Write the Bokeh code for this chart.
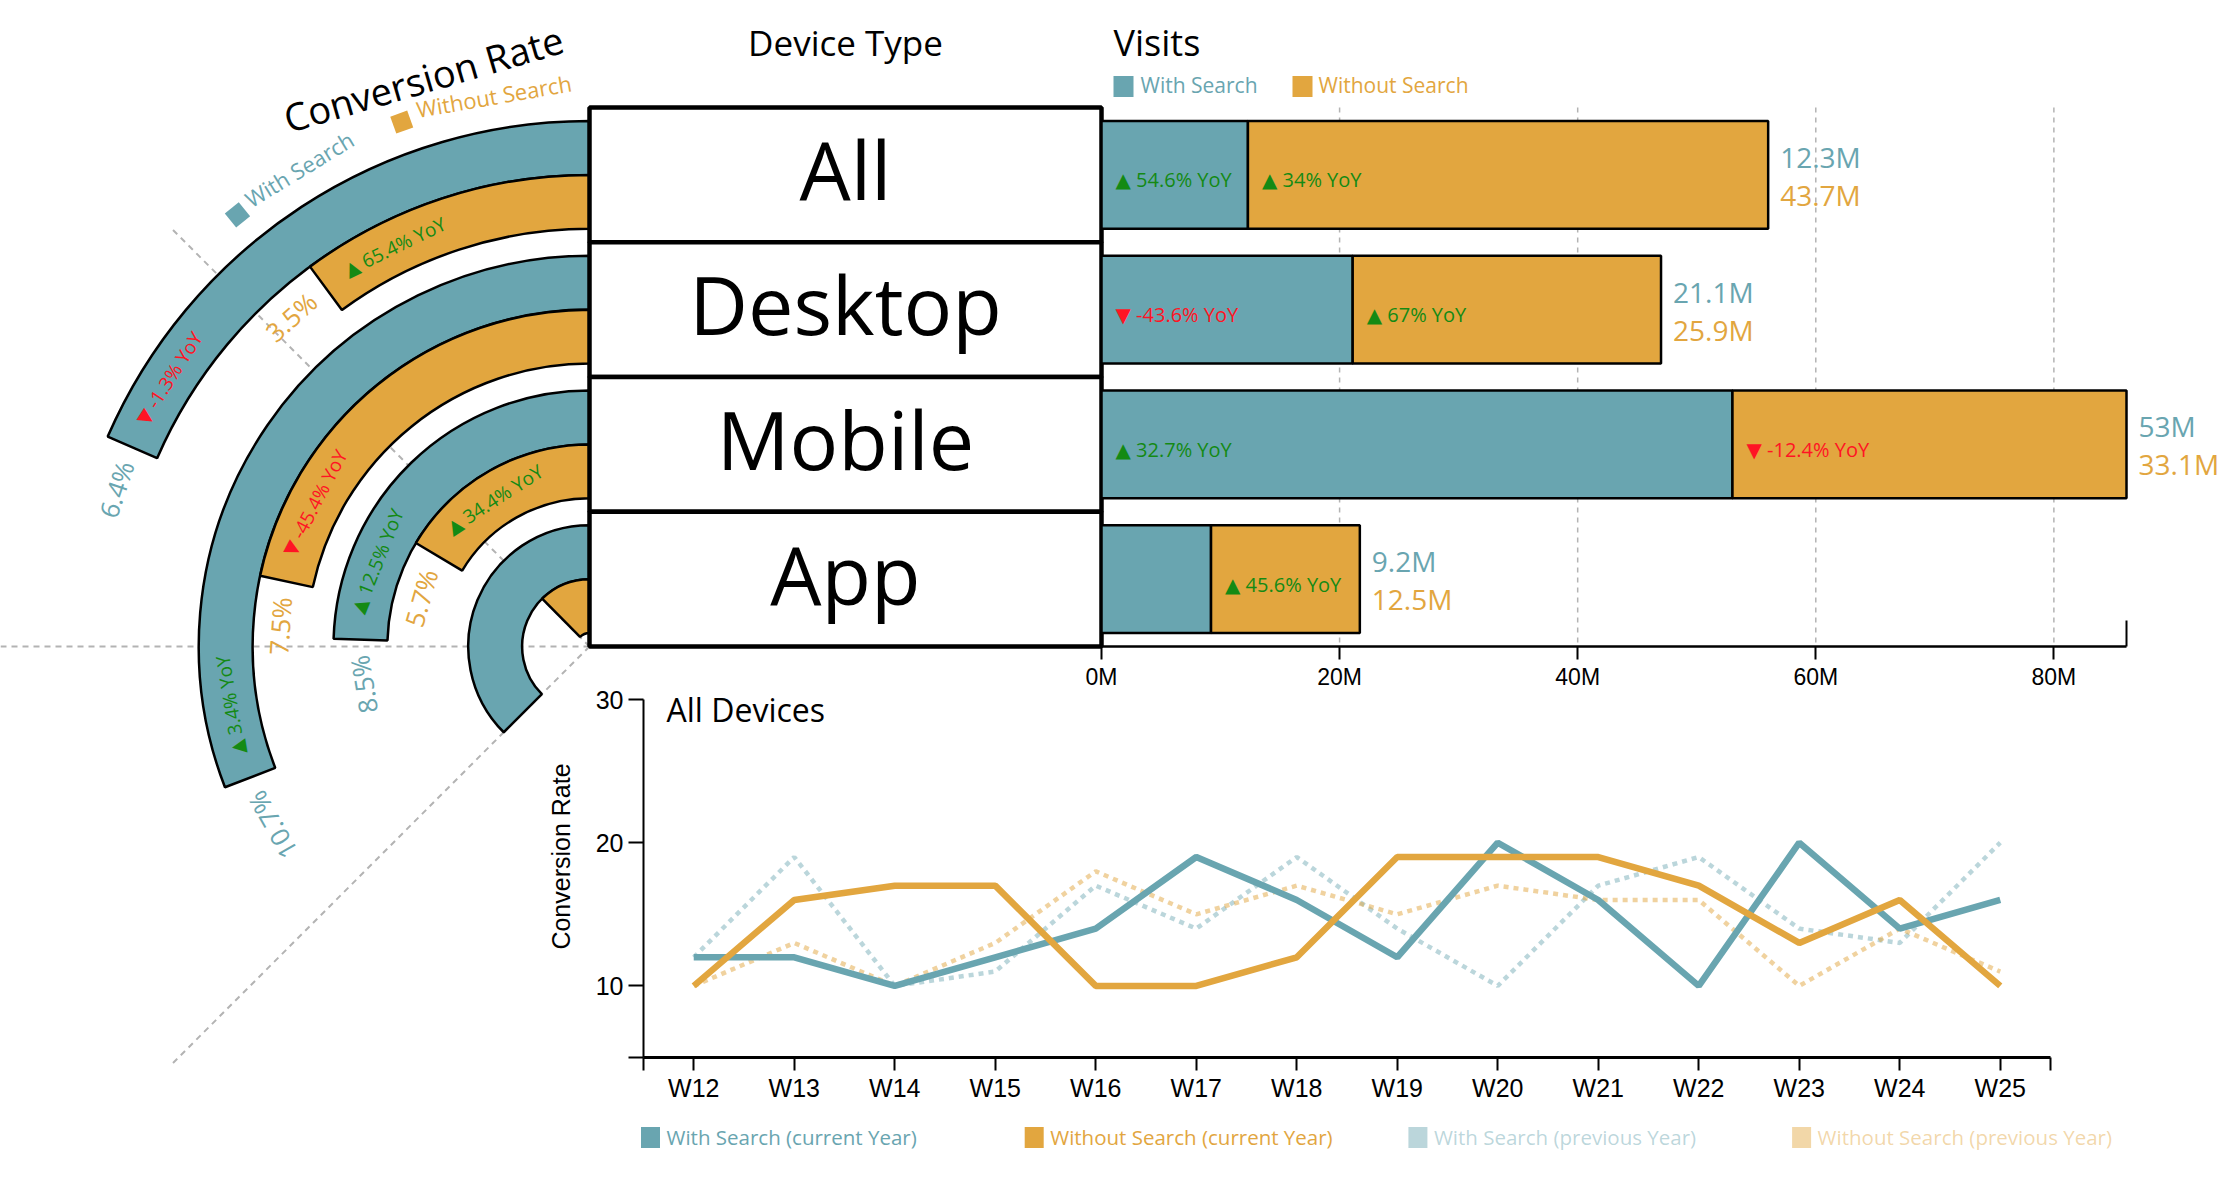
import math
from bokeh.plotting import figure
from bokeh.models import Range1d, FixedTicker, LinearAxis
from bokeh.core.properties import value
from bokeh.embed import file_html
from bokeh.resources import INLINE

# ---------------- data ----------------
devices = ["All", "Desktop", "Mobile", "App"]
conv_with = [6.4, 10.7, 8.5, 13.0]
conv_without = [3.5, 7.5, 5.7, 4.3]
conv_with_yoy = [-1.3, 3.4, 12.5, None]
conv_without_yoy = [65.4, -45.4, 34.4, None]
conv_labelled = [True, True, True, False]

visits_with = [12.3, 21.1, 53.0, 9.2]
visits_without = [43.7, 25.9, 33.1, 12.5]
visits_with_yoy = [54.6, -43.6, 32.7, None]
visits_without_yoy = [34.0, 67.0, -12.4, 45.6]
visit_ticks = [0, 20, 40, 60, 80]

weeks = ["W12", "W13", "W14", "W15", "W16", "W17", "W18", "W19", "W20", "W21", "W22", "W23", "W24", "W25"]
cr_with_cur = [12, 12, 10, 12, 14, 19, 16, 12, 20, 16, 10, 20, 14, 16]
cr_without_cur = [10, 16, 17, 17, 10, 10, 12, 19, 19, 19, 17, 13, 16, 10]
cr_with_prev = [12, 19, 10, 11, 17, 14, 19, 14, 10, 17, 19, 14, 13, 20]
cr_without_prev = [10, 13, 10, 13, 18, 15, 17, 15, 17, 16, 16, 10, 14, 11]
cr_ticks = [10, 20, 30]
cr_floor = 5

legend_line = ["With Search (current Year)", "Without Search (current Year)",
               "With Search (previous Year)", "Without Search (previous Year)"]

# ---------------- styling / layout ----------------
TEAL = "#69a5b0"
ORANGE = "#e2a63f"
UP = "#148a14"
DOWN = "#ff1424"
GRID = "#b3b3b3"
FONT = value("Open Sans, DejaVu Sans")
AXFONT = "Liberation Sans"

W, H = 2240, 1196
BOX_L, BOX_R = 589, 1101
BAND_TOP, BAND_BOT = 107, 646
AXIS_END = 2126
LINE_L, LINE_R, LINE_T, LINE_B = 643, 2050, 699, 1057

ADV = {'.': .266, '%': .823, '-': .322, ' ': .26, 'Y': .532, 'o': .602, 'M': .907,
       '\u25b2': .77, '\u25bc': .77}


def tw(s, size):
    return sum(ADV.get(c, .572 if c.isdigit() else .55) for c in s) * size


def P(px, py):
    return px - BOX_L, BAND_BOT - py


def polar(r, th):
    return r * math.cos(th), r * math.sin(th)


def yoy_text(v):
    return ("\u25b2 " if v >= 0 else "\u25bc ") + f"{v:g}% YoY"


# one canvas; default ranges are pixel units with origin at the radial centre (y up)
p = figure(width=W, height=H, x_range=Range1d(-BOX_L, W - BOX_L), y_range=Range1d(-(H - BAND_BOT), BAND_BOT),
           x_axis_type=None, y_axis_type=None, min_border=0, toolbar_location=None,
           output_backend="svg", title=None)
p.outline_line_color = None
p.background_fill_color = "white"
p.border_fill_color = "white"

n = len(devices)
span = BAND_BOT - BAND_TOP
step = span / n
PAD = 0.1

# extra scales for the visits bars and the weekly line chart
totals = [a + b for a, b in zip(visits_with, visits_without)]
vmax = max(totals)
vk = (AXIS_END - BOX_R) / vmax
p.extra_x_ranges["visits"] = Range1d(-BOX_R / vk, (W - BOX_R) / vk)
p.extra_y_ranges["rows"] = Range1d((H - BAND_TOP) / step, -BAND_TOP / step)
wk = (LINE_R - LINE_L) / len(weeks)
p.extra_x_ranges["weeks"] = Range1d(-0.5 - LINE_L / wk, -0.5 + (W - LINE_L) / wk)
ck = (LINE_B - LINE_T) / (max(cr_ticks) - cr_floor)
p.extra_y_ranges["cr"] = Range1d(cr_floor - (H - LINE_B) / ck, max(cr_ticks) + LINE_T / ck)

# ================= radial conversion-rate chart =================
r_out = [span - (i + PAD) * step for i in range(n)]
r_mid = [span - (i + 0.5) * step for i in range(n)]
r_in = [span - (i + 1 - PAD) * step for i in range(n)]

ANG0 = math.pi / 2
ASPAN = 3 * math.pi / 4
RMAX = max(conv_with + conv_without)


def ang(rate):
    return ANG0 + rate / RMAX * ASPAN


p.ray(x=0, y=0, length=590, angle=[ANG0 + k * ASPAN / 3 for k in (1, 2, 3)],
      line_color=GRID, line_width=2, line_dash="6 5")

p.annular_wedge(x=0, y=0, inner_radius=r_mid, outer_radius=r_out, start_angle=ANG0,
                end_angle=[ang(v) for v in conv_with], direction="anticlock",
                fill_color=TEAL, line_color="black", line_width=2.5)
p.annular_wedge(x=0, y=0, inner_radius=r_in, outer_radius=r_mid, start_angle=ANG0,
                end_angle=[ang(v) for v in conv_without], direction="anticlock",
                fill_color=ORANGE, line_color="black", line_width=2.5)

yx, yy, yt, ya, yc = [], [], [], [], []
rx, ry, rt, ra, rc = [], [], [], [], []
for i in range(n):
    for rate, yoy, r, col in ((conv_with[i], conv_with_yoy[i], (r_out[i] + r_mid[i]) / 2, TEAL),
                              (conv_without[i], conv_without_yoy[i], (r_mid[i] + r_in[i]) / 2, ORANGE)):
        te = ang(rate)
        if yoy is not None:
            s = yoy_text(yoy)
            th = te - (26 + tw(s, 19) / 2) / r
            x, y = polar(r, th)
            yx.append(x); yy.append(y); yt.append(s); ya.append(th - math.pi / 2)
            yc.append(UP if yoy >= 0 else DOWN)
        if conv_labelled[i]:
            s = f"{rate:g}%"
            th = te + (16 + tw(s, 26) / 2) / r
            x, y = polar(r, th)
            rx.append(x); ry.append(y); rt.append(s); ra.append(th - math.pi / 2); rc.append(col)

p.text(x=yx, y=yy, text=yt, angle=ya, text_color=yc, text_font=FONT, text_font_size="19px",
       text_align="center", text_baseline="middle")
p.text(x=rx, y=ry, text=rt, angle=ra, text_color=rc, text_font=FONT, text_font_size="26px",
       text_align="center", text_baseline="middle")

t_th = math.radians(106.3)
tx, ty = polar(592, t_th)
p.text(x=[tx], y=[ty], text=["Conversion Rate"], angle=t_th - math.pi / 2, text_color="black",
       text_font=FONT, text_font_size="38px", text_align="center", text_baseline="middle")
for sq_deg, txt_deg, label, col in ((129.2, 121.3, "With Search", TEAL), (109.7, 99.85, "Without Search", ORANGE)):
    sth = math.radians(sq_deg)
    sx, sy = polar(557, sth)
    p.rect(x=[sx], y=[sy], width=18, height=18, angle=sth - math.pi / 2, fill_color=col, line_color=None)
    lth = math.radians(txt_deg)
    lx, ly = polar(559, lth)
    p.text(x=[lx], y=[ly], text=[label], angle=lth - math.pi / 2, text_color=col, text_font=FONT,
           text_font_size="22px", text_align="center", text_baseline="middle")

# device box
box_w = BOX_R - BOX_L
p.rect(x=box_w / 2, y=r_mid, width=box_w, height=step, fill_color="white", line_color="black", line_width=4.5)
p.text(x=[box_w / 2] * n, y=[r + 6 for r in r_mid], text=devices, text_color="black", text_font=FONT,
       text_font_size="81px", text_align="center", text_baseline="middle")


def put_text(px, py, s, size, color="black", align="left", font=FONT, angle=0.0, alpha=1.0):
    x, y = P(px, py)
    p.text(x=[x], y=[y], text=[s], text_color=color, text_alpha=alpha, text_font=font, text_font_size=size,
           text_align=align, text_baseline="middle", angle=angle)


put_text(845, 42, "Device Type", "35px", align="center")
put_text(1113, 42, "Visits", "36px")
for sqx, tx_, label, col in ((1123, 1140, "With Search", TEAL), (1302, 1318, "Without Search", ORANGE)):
    x, y = P(sqx, 86)
    p.rect(x=[x], y=[y], width=20, height=21, fill_color=col, line_color=None)
    put_text(tx_, 84, label, "21px", color=col)

# ================= visits bar chart =================
VIS = dict(x_range_name="visits", y_range_name="rows")
row_c = [i + 0.5 for i in range(n)]
p.segment(x0=visit_ticks[1:], y0=0, x1=visit_ticks[1:], y1=n, line_color=GRID, line_width=1.5,
          line_dash="5 5", **VIS)
p.hbar(y=row_c, left=0, right=visits_with, height=1 - 2 * PAD, fill_color=TEAL,
       line_color="black", line_width=2.5, **VIS)
p.hbar(y=row_c, left=visits_with, right=totals, height=1 - 2 * PAD, fill_color=ORANGE,
       line_color="black", line_width=2.5, **VIS)
p.segment(x0=[vmax], y0=[n - 26 / step], x1=[vmax], y1=[n], line_color="black", line_width=2, **VIS)

sx_, sy_, st_, sc_ = [], [], [], []
for i in range(n):
    for left, yoy in ((0, visits_with_yoy[i]), (visits_with[i], visits_without_yoy[i])):
        if yoy is None:
            continue
        sx_.append(left); sy_.append(row_c[i] + 5 / step); st_.append(yoy_text(yoy))
        sc_.append(UP if yoy >= 0 else DOWN)
p.text(x=sx_, y=sy_, text=st_, text_color=sc_, x_offset=14, text_font=FONT, text_font_size="20px",
       text_baseline="middle", text_align="left", **VIS)
for vals, dy, col in ((visits_with, -18, TEAL), (visits_without, 20, ORANGE)):
    p.text(x=totals, y=[c + dy / step for c in row_c], text=[f"{v:g}M" for v in vals], x_offset=12,
           text_color=col, text_font=FONT, text_font_size="28px", text_baseline="middle",
           text_align="left", **VIS)

vax = LinearAxis(fixed_location=n, bounds=(0, vmax), ticker=FixedTicker(ticks=visit_ticks), **VIS)
vax.major_label_overrides = {t: f"{t}M" for t in visit_ticks}
vax.axis_line_width = 2.5
vax.major_tick_out = 13
vax.major_label_standoff = 4
vax.major_label_text_font_size = "23px"
p.add_layout(vax, "below")

# ================= weekly conversion-rate line chart =================
LN = dict(x_range_name="weeks", y_range_name="cr")
idx = list(range(len(weeks)))
p.line(idx, cr_with_prev, line_color=TEAL, line_alpha=0.45, line_width=4.5, line_dash="5 5", **LN)
p.line(idx, cr_without_prev, line_color=ORANGE, line_alpha=0.5, line_width=4.5, line_dash="5 5", **LN)
p.line(idx, cr_with_cur, line_color=TEAL, line_width=6.5, **LN)
p.line(idx, cr_without_cur, line_color=ORANGE, line_width=6.5, **LN)

ov = {i: w for i, w in zip(idx, weeks)}
ov[-0.5] = ""
ov[len(weeks) - 0.5] = ""
lxa = LinearAxis(fixed_location=cr_floor, bounds=(-0.5, len(weeks) - 0.5),
                 ticker=FixedTicker(ticks=[-0.5] + idx + [len(weeks) - 0.5]), **LN)
lxa.major_label_overrides = ov
lxa.axis_line_width = 3
lxa.major_tick_out = 13
lxa.major_label_standoff = 3
lxa.major_label_text_font_size = "25px"
p.add_layout(lxa, "below")

lya = LinearAxis(fixed_location=-0.5, bounds=(cr_floor, max(cr_ticks)),
                 ticker=FixedTicker(ticks=[cr_floor] + cr_ticks), **LN)
lya.major_label_overrides = {cr_floor: ""}
lya.axis_line_width = 2
lya.major_tick_out = 15
lya.major_label_standoff = 5
lya.major_label_text_font_size = "25px"
p.add_layout(lya, "left")

for ax in (vax, lxa, lya):
    ax.axis_line_color = "black"
    ax.major_tick_line_width = 2
    ax.major_tick_line_color = "black"
    ax.major_tick_in = 0
    ax.minor_tick_line_color = None
    ax.major_label_text_font = AXFONT
    ax.major_label_text_color = "black"

put_text(666, 709, "All Devices", "32px")
put_text(560, 856, "Conversion Rate", "25px", align="center", font=value(AXFONT), angle=math.pi / 2)
leg_cols = [TEAL, ORANGE, TEAL, ORANGE]
leg_alpha = [1, 1, 0.45, 0.45]
for k, (label, col, al) in enumerate(zip(legend_line, leg_cols, leg_alpha)):
    sq_x = 650 + k * 383.7
    x, y = P(sq_x, 1137)
    p.rect(x=[x], y=[y], width=19, height=21, fill_color=col, fill_alpha=al, line_color=None)
    put_text(sq_x + 16, 1136, label, "20.5px", color=col, alpha=al)

open("out.html", "w").write(file_html(p, INLINE))
